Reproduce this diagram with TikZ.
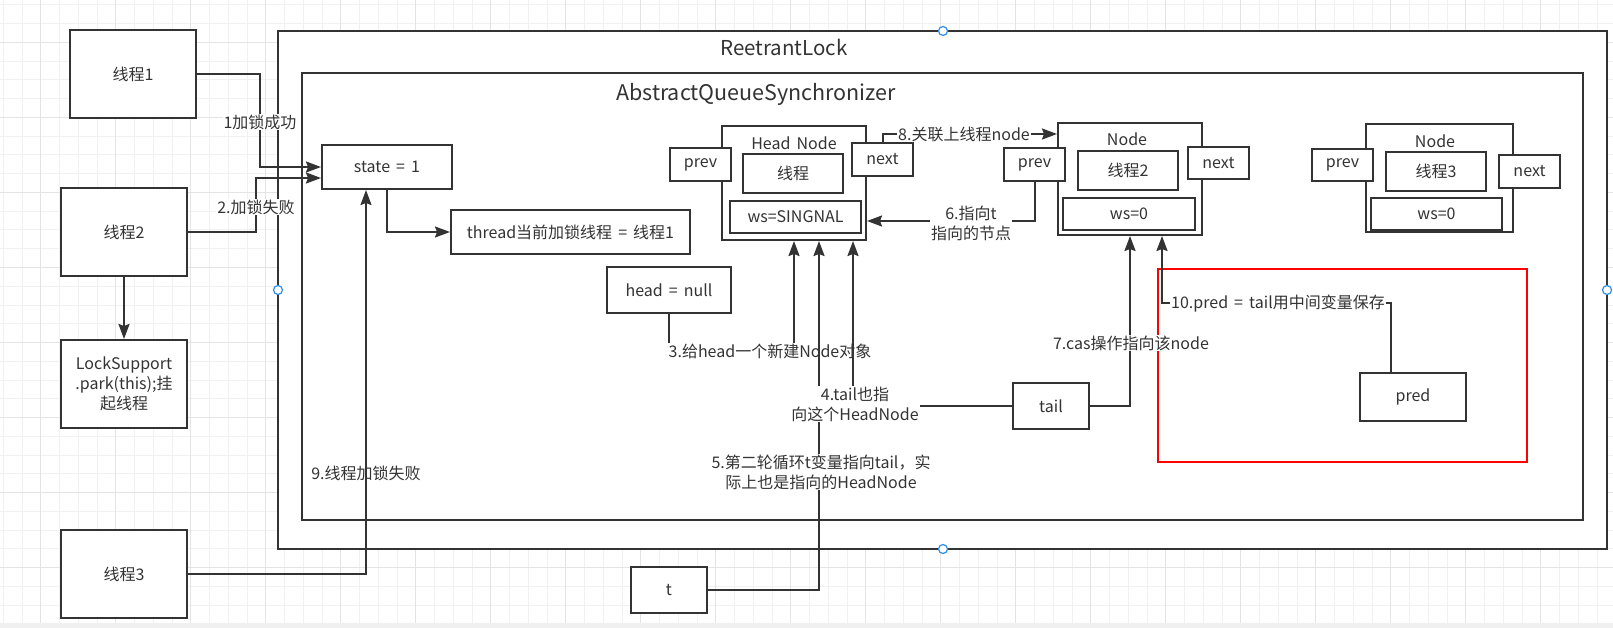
\documentclass[tikz,border=0pt]{standalone}
\usepackage{fontspec}
\setmainfont[WordSpace=1.7]{Noto Sans CJK SC}
\usetikzlibrary{arrows.meta}
\definecolor{lc}{HTML}{333333}
\definecolor{tc}{HTML}{333333}
\definecolor{gmin}{HTML}{F1F1F1}
\definecolor{gmaj}{HTML}{E4E4E4}
\definecolor{hblue}{HTML}{2E8EF2}
\newcommand{\fs}{\fontsize{16}{20}\selectfont}
\newcommand{\bx}[7][]{\node[box,#1,minimum width={#4-#2},minimum height={#5-#3}] (#6) at ({(#2+#4)/2},{(#3+#5)/2}) {#7};}
\tikzset{
  box/.style={draw=lc, line width=2pt, fill=white, inner sep=0pt, align=center, text=tc, font=\fs},
  lbl/.style={fill=white, inner sep=1pt, align=center, text=tc, font=\fs},
  lbln/.style={inner sep=0pt, align=center, text=tc, font=\fs},
  arr/.style={draw=lc, line width=2pt, -{Stealth[length=15pt,width=11pt,inset=2pt]}},
  gridmin/.style={draw=gmin, line width=1pt},
  gridmaj/.style={draw=gmaj, line width=1pt},
  handle/.style={circle, draw=hblue, fill=white, line width=1.2pt, minimum size=9pt, inner sep=0pt},
}
\begin{document}
\begin{tikzpicture}[x=1pt,y=-1pt]
\useasboundingbox (0,0) rectangle (1613,628);
% background and grid
\fill[white] (0,0) rectangle (1613,628);
\foreach \i in {0,...,85} {\draw[gridmin] ({3.3+18.75*\i},0) -- ({3.3+18.75*\i},623);}
\foreach \i in {0,...,32} {\draw[gridmin] (0,{5+18.75*\i}) -- (1613,{5+18.75*\i});}
\foreach \i in {0,...,21} {\draw[gridmaj] ({40.8+75*\i},0) -- ({40.8+75*\i},623);}
\foreach \i in {0,...,7} {\draw[gridmaj] (0,{42.5+75*\i}) -- (1613,{42.5+75*\i});}
\fill[gray!12] (0,623) rectangle (1613,628);

% containers
\bx{278}{31}{1607}{549}{outer}{}
\bx{302}{73}{1583}{520}{aqs}{}
\node[lbln, font=\fontsize{20.5}{24}\selectfont] (rlt) at (784,47) {ReetrantLock};
\node[lbln, font=\fontsize{21.5}{24}\selectfont] (aqst) at (756,94) {AbstractQueueSynchronizer};

% left boxes
\bx{70}{30}{196}{118}{t1}{线程1}
\bx{61}{188}{187}{276}{t2}{线程2}
\bx{61}{340}{187}{428}{ls}{LockSupport\\.park(this);挂\\起线程}
\bx{61}{530}{187}{618}{t3}{线程3}

% inner boxes
\bx{322}{145}{452}{189}{state}{state = 1}
\bx{451}{210}{690}{254}{thread}{thread当前加锁线程 = 线程1}
\bx{607}{267}{731}{313}{hnull}{head = null}
\bx{631}{567}{707}{613}{tbox}{t}
\bx{1013}{383}{1089}{429}{tail}{tail}
\bx{1360}{373}{1466}{421}{pred}{pred}

% Head Node
\bx{722}{126}{866}{240}{headnode}{}
\node[lbln] (hnt) at (794,143) {Head Node};
\bx{670}{148}{731}{181}{hprev}{prev}
\bx{743}{154}{843}{193}{hthread}{线程}
\bx{730}{201}{861}{233}{hws}{ws=SINGNAL}
\bx{852}{143}{913}{176}{hnext}{next}

% Node 2
\bx{1058}{123}{1202}{235}{node2}{}
\node[lbln] (n2t) at (1127,139) {Node};
\bx{1004}{148}{1065}{181}{n2prev}{prev}
\bx{1078}{151}{1178}{190}{n2thread}{线程2}
\bx{1063}{198}{1195}{230}{n2ws}{ws=0}
\bx{1188}{147}{1249}{179}{n2next}{next}

% Node 3
\bx{1366}{124}{1513}{232}{node3}{}
\node[lbln] (n3t) at (1435,141) {Node};
\bx{1312}{149}{1373}{181}{n3prev}{prev}
\bx{1386}{152}{1486}{191}{n3thread}{线程3}
\bx{1371}{198}{1502}{230}{n3ws}{ws=0}
\bx{1499}{155}{1560}{188}{n3next}{next}

% red frame
\node[draw=red, line width=2pt, inner sep=0pt, minimum width=369pt, minimum height=193pt] (redbox) at (1342.5,365.5) {};

% connectors
\draw[arr] (t1.east) -- ++(63,0) |- (state.west);
\node[lbl] (l1) at (260,122) {1加锁成功};
\draw[arr] (t2.east) -- ++(68,0) |- ([yshift=-11pt]state.west);
\node[lbl] (l2) at (256,207) {2.加锁失败};
\draw[arr] (state.south) |- (thread.west);
\draw[arr] (t2.south) -- (ls.north);
\draw[arr] (t3.east) -| ([xshift=-21pt]state.south);
\node[lbln] (l9) at (366,473) {9.线程加锁失败};

\draw[arr] (hnull.south) -- ++(0,38) -| (headnode.south);
\node[lbl] (l3) at (770,351) {3.给head一个新建Node对象};
\draw[arr] (tbox.east) -| ([xshift=25pt]headnode.south);
\node[lbl] (l5) at (821,472) {5.第二轮循环t变量指向tail，实\\际上也是指向的HeadNode};
\draw[arr] (tail.west) -| ([xshift=59pt]headnode.south);
\node[lbl] (l4) at (855,404) {4.tail也指\\向这个HeadNode};

\draw[arr] (n2prev.south) |- ([yshift=-38pt]headnode.east);
\node[lbl] (l6) at (971,223) {6.指向t\\指向的节点};
\draw[arr] (tail.east) -| (node2.south);
\node[lbl] (l7) at (1131,343) {7.cas操作指向该node};
\draw[arr] (hnext.north) |- ([yshift=45pt]node2.west);
\node[lbl] (l8) at (964,134) {8.关联上线程node};
\draw[arr] ([xshift=-22pt]pred.north) -- ++(0,-69) -| ([xshift=32pt]node2.south);
\node[lbl] (l10) at (1278,304) {10.pred = tail用中间变量保存};

% selection handles
\node[handle] (h1) at (943,31) {};
\node[handle] (h2) at (278,290) {};
\node[handle] (h3) at (943,549) {};
\node[handle] (h4) at (1607,290) {};
\end{tikzpicture}
\end{document}
